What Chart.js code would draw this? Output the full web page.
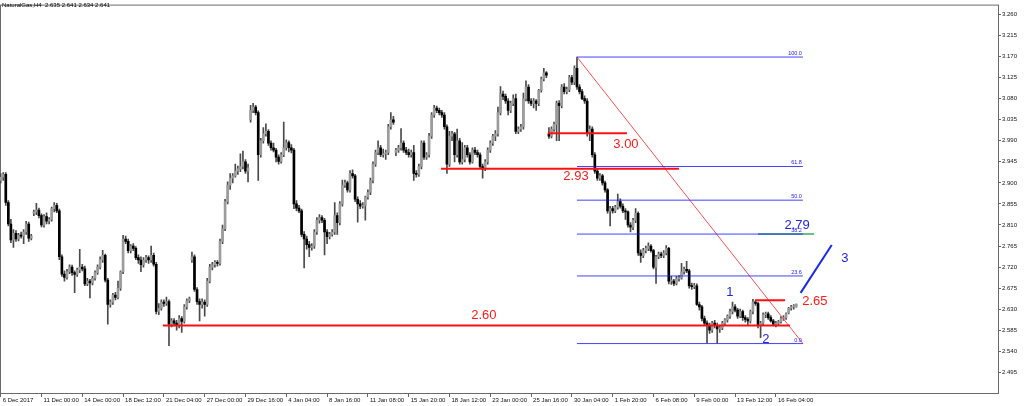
<!DOCTYPE html>
<html>
<head>
<meta charset="utf-8">
<title>NaturalGas H4</title>
<style>
  html, body { margin: 0; padding: 0; background: #fff; }
  canvas { display: block; }
</style>
<script src="https://cdn.jsdelivr.net/npm/chart.js@4.4.1/dist/chart.umd.min.js"></script>
</head>
<body>
<canvas id="gasChart" width="1024" height="406"></canvas>
<script>
'use strict'

// H4 candles (bar 0 = 6 Dec 2017)
const opens = [
  2.905,2.912,2.918,2.858,2.812,2.778,2.792,2.780,2.788,2.786,
  2.795,2.812,2.782,2.835,2.838,2.842,2.830,2.810,2.828,2.818,
  2.822,2.845,2.852,2.840,2.742,2.705,2.698,2.710,2.720,2.708,
  2.704,2.714,2.720,2.716,2.684,2.690,2.686,2.696,2.708,2.720,
  2.736,2.745,2.692,2.640,2.645,2.660,2.655,2.675,2.710,2.780,
  2.775,2.755,2.765,2.760,2.740,2.735,2.725,2.735,2.740,2.735,
  2.745,2.726,2.625,2.632,2.645,2.642,2.646,2.598,2.605,2.600,
  2.597,2.610,2.604,2.635,2.648,2.735,2.742,2.672,2.646,2.640,
  2.645,2.640,2.690,2.720,2.725,2.730,2.728,2.775,2.802,2.860,
  2.895,2.910,2.915,2.925,2.930,2.935,2.945,2.925,3.035,3.055,
  3.062,3.050,2.960,2.990,3.005,3.010,2.985,2.975,2.970,2.955,
  2.946,2.960,2.975,2.986,2.975,2.970,2.855,2.846,2.840,2.790,
  2.780,2.768,2.762,2.765,2.795,2.820,2.826,2.820,2.795,2.785,
  2.790,2.795,2.830,2.815,2.855,2.895,2.900,2.885,2.920,2.915,
  2.865,2.855,2.850,2.852,2.870,2.880,2.905,2.940,2.965,2.975,
  2.960,2.962,2.965,3.020,3.035,2.965,2.970,2.975,2.985,2.970,
  2.965,2.960,2.965,2.920,2.918,2.935,2.985,2.955,2.960,3.000,
  3.045,3.060,3.055,3.050,3.045,3.020,2.940,3.000,3.005,2.960,
  2.990,2.945,2.950,2.975,2.960,2.945,2.970,2.965,2.960,2.935,
  2.930,2.945,2.970,2.985,3.000,3.005,3.050,3.090,3.085,3.075,
  3.055,3.070,3.080,3.010,3.015,3.020,3.080,3.105,3.075,3.070,
  3.075,3.070,3.098,3.122,3.135,3.005,3.000,3.015,3.025,3.070,
  3.065,3.105,3.095,3.100,3.125,3.115,3.145,3.105,3.095,3.080,
  3.075,3.005,3.015,2.960,2.925,2.910,2.915,2.900,2.885,2.840,
  2.845,2.840,2.848,2.860,2.850,2.840,2.838,2.810,2.805,2.820,
  2.835,2.750,2.745,2.755,2.760,2.765,2.755,2.720,2.742,2.748,
  2.745,2.750,2.760,2.690,2.690,2.685,2.695,2.697,2.710,2.715,
  2.712,2.680,2.678,2.680,2.640,2.635,2.610,2.600,2.595,2.585,
  2.600,2.595,2.588,2.590,2.600,2.607,2.615,2.625,2.635,2.628,
  2.615,2.625,2.612,2.608,2.605,2.625,2.645,2.642,2.595,2.600,
  2.618,2.620,2.612,2.605,2.598,2.600,2.603,2.610,2.612,2.622,
  2.632,2.635,2.635
]
const highs = [
  2.920,2.922,2.922,2.862,2.822,2.800,2.798,2.792,2.795,2.800,
  2.818,2.816,2.790,2.842,2.856,2.846,2.834,2.832,2.836,2.826,
  2.848,2.858,2.856,2.844,2.746,2.712,2.715,2.725,2.724,2.712,
  2.718,2.758,2.726,2.722,2.696,2.694,2.700,2.712,2.725,2.742,
  2.756,2.748,2.696,2.650,2.664,2.666,2.690,2.712,2.788,2.786,
  2.780,2.768,2.770,2.764,2.746,2.742,2.740,2.745,2.744,2.765,
  2.750,2.730,2.642,2.650,2.650,2.656,2.650,2.610,2.610,2.606,
  2.616,2.614,2.640,2.652,2.656,2.752,2.746,2.676,2.652,2.652,
  2.650,2.696,2.726,2.730,2.734,2.734,2.780,2.810,2.865,2.902,
  2.920,2.920,2.940,2.936,2.962,2.968,2.950,2.940,3.066,3.070,
  3.066,3.054,2.995,3.018,3.026,3.014,2.990,2.985,2.974,2.960,
  2.965,3.030,2.992,2.990,2.982,2.974,2.862,2.852,2.844,2.796,
  2.786,2.775,2.770,2.800,2.826,2.832,2.830,2.824,2.800,2.794,
  2.800,2.858,2.836,2.860,2.906,2.906,2.904,2.926,2.928,2.918,
  2.870,2.862,2.858,2.872,2.885,2.910,2.945,2.970,2.990,2.980,
  2.972,2.970,3.025,3.050,3.042,2.974,2.980,3.016,2.990,2.976,
  2.972,2.970,2.980,2.926,2.940,2.990,2.990,2.965,3.006,3.050,
  3.066,3.064,3.060,3.055,3.050,3.024,3.010,3.010,3.008,3.015,
  2.995,2.986,2.980,2.980,2.965,2.975,2.976,2.970,2.964,2.940,
  2.950,2.975,2.990,3.004,3.012,3.062,3.106,3.096,3.090,3.080,
  3.075,3.088,3.090,3.020,3.025,3.092,3.118,3.110,3.080,3.080,
  3.078,3.100,3.126,3.145,3.138,3.018,3.020,3.030,3.075,3.076,
  3.110,3.112,3.105,3.130,3.130,3.150,3.169,3.110,3.100,3.086,
  3.080,3.022,3.020,2.965,2.930,2.920,2.918,2.904,2.888,2.850,
  2.850,2.852,2.876,2.866,2.855,2.845,2.840,2.815,2.824,2.845,
  2.838,2.757,2.760,2.765,2.772,2.768,2.758,2.745,2.752,2.752,
  2.755,2.766,2.762,2.700,2.694,2.700,2.702,2.728,2.720,2.732,
  2.715,2.686,2.685,2.684,2.645,2.638,2.615,2.605,2.600,2.604,
  2.606,2.600,2.596,2.604,2.610,2.618,2.630,2.645,2.640,2.632,
  2.630,2.628,2.616,2.612,2.628,2.651,2.648,2.645,2.604,2.622,
  2.624,2.624,2.616,2.608,2.604,2.606,2.614,2.616,2.622,2.634,
  2.638,2.640,2.641
]
const lows = [
  2.900,2.905,2.852,2.808,2.772,2.762,2.775,2.776,2.782,2.770,
  2.790,2.775,2.778,2.830,2.832,2.825,2.806,2.805,2.812,2.812,
  2.818,2.838,2.836,2.736,2.700,2.690,2.694,2.706,2.702,2.665,
  2.700,2.708,2.712,2.680,2.680,2.654,2.682,2.692,2.704,2.716,
  2.730,2.688,2.598,2.634,2.640,2.650,2.652,2.670,2.706,2.770,
  2.750,2.750,2.755,2.736,2.728,2.710,2.720,2.730,2.728,2.730,
  2.722,2.620,2.618,2.628,2.636,2.638,2.552,2.592,2.594,2.585,
  2.590,2.580,2.600,2.630,2.644,2.730,2.668,2.640,2.605,2.632,
  2.615,2.636,2.686,2.714,2.720,2.722,2.724,2.770,2.798,2.855,
  2.886,2.900,2.912,2.918,2.924,2.930,2.920,2.902,3.030,3.050,
  3.045,2.905,2.955,2.985,3.000,2.980,2.970,2.966,2.945,2.940,
  2.942,2.956,2.970,2.966,2.964,2.845,2.840,2.836,2.785,2.718,
  2.758,2.742,2.756,2.760,2.790,2.814,2.815,2.746,2.770,2.780,
  2.786,2.790,2.790,2.810,2.850,2.890,2.880,2.880,2.910,2.860,
  2.816,2.845,2.846,2.820,2.865,2.875,2.900,2.935,2.960,2.956,
  2.955,2.950,2.960,3.015,3.025,2.958,2.965,2.970,2.965,2.960,
  2.955,2.955,2.905,2.912,2.914,2.930,2.950,2.950,2.955,2.995,
  3.040,3.050,3.045,3.040,3.015,2.920,2.935,2.990,2.945,2.955,
  2.940,2.940,2.945,2.955,2.940,2.942,2.960,2.955,2.932,2.910,
  2.926,2.940,2.965,2.980,2.990,3.000,3.045,3.078,3.070,3.045,
  3.050,3.065,3.005,3.005,3.010,3.015,3.075,3.070,3.065,3.060,
  3.055,3.065,3.094,3.118,3.125,2.995,2.996,3.010,2.990,2.990,
  3.060,3.090,3.090,3.095,3.110,3.110,3.100,3.090,3.078,3.070,
  3.000,2.990,2.955,2.920,2.905,2.905,2.895,2.880,2.835,2.808,
  2.835,2.836,2.844,2.846,2.836,2.822,2.805,2.795,2.800,2.815,
  2.745,2.730,2.740,2.750,2.755,2.752,2.716,2.685,2.738,2.740,
  2.740,2.746,2.684,2.683,2.680,2.682,2.690,2.694,2.705,2.708,
  2.675,2.672,2.674,2.638,2.628,2.605,2.596,2.558,2.578,2.580,
  2.590,2.558,2.580,2.586,2.596,2.602,2.610,2.620,2.624,2.610,
  2.612,2.606,2.602,2.595,2.600,2.620,2.638,2.590,2.569,2.596,
  2.612,2.608,2.602,2.594,2.592,2.596,2.600,2.606,2.608,2.620,
  2.628,2.630,2.634
]
const closes = [
  2.912,2.918,2.858,2.812,2.778,2.792,2.780,2.788,2.786,2.795,
  2.812,2.782,2.786,2.838,2.842,2.830,2.810,2.828,2.818,2.822,
  2.845,2.852,2.840,2.742,2.705,2.698,2.710,2.720,2.708,2.704,
  2.714,2.720,2.716,2.684,2.690,2.686,2.696,2.708,2.720,2.736,
  2.745,2.692,2.640,2.645,2.660,2.655,2.675,2.710,2.780,2.775,
  2.755,2.765,2.760,2.740,2.735,2.725,2.735,2.740,2.735,2.745,
  2.726,2.625,2.632,2.645,2.642,2.646,2.598,2.605,2.600,2.597,
  2.610,2.604,2.635,2.648,2.652,2.742,2.672,2.646,2.640,2.645,
  2.640,2.690,2.720,2.725,2.730,2.728,2.775,2.802,2.860,2.895,
  2.910,2.915,2.925,2.930,2.935,2.945,2.925,2.932,3.055,3.062,
  3.050,2.960,2.990,3.005,3.010,2.985,2.975,2.970,2.955,2.946,
  2.960,2.975,2.986,2.975,2.970,2.855,2.846,2.840,2.790,2.780,
  2.768,2.762,2.765,2.795,2.820,2.826,2.820,2.795,2.785,2.790,
  2.795,2.830,2.815,2.855,2.895,2.900,2.885,2.920,2.915,2.865,
  2.855,2.850,2.852,2.870,2.880,2.905,2.940,2.965,2.975,2.960,
  2.962,2.965,3.020,3.035,3.030,2.970,2.975,2.985,2.970,2.965,
  2.960,2.965,2.920,2.918,2.935,2.985,2.955,2.960,3.000,3.045,
  3.060,3.055,3.050,3.045,3.020,2.940,3.000,3.005,2.960,2.990,
  2.945,2.950,2.975,2.960,2.945,2.970,2.965,2.960,2.935,2.930,
  2.945,2.970,2.985,3.000,3.005,3.050,3.090,3.085,3.075,3.055,
  3.070,3.080,3.010,3.015,3.020,3.080,3.105,3.075,3.070,3.075,
  3.070,3.098,3.122,3.135,3.130,3.000,3.015,3.025,3.070,3.065,
  3.105,3.095,3.100,3.125,3.115,3.145,3.105,3.095,3.080,3.075,
  3.005,3.015,2.960,2.925,2.910,2.915,2.900,2.885,2.840,2.845,
  2.840,2.848,2.860,2.850,2.840,2.838,2.810,2.805,2.820,2.835,
  2.750,2.745,2.755,2.760,2.765,2.755,2.720,2.742,2.748,2.745,
  2.750,2.760,2.690,2.690,2.685,2.695,2.697,2.710,2.715,2.712,
  2.680,2.678,2.680,2.640,2.635,2.610,2.600,2.595,2.585,2.600,
  2.595,2.588,2.590,2.600,2.607,2.615,2.625,2.635,2.628,2.615,
  2.625,2.612,2.608,2.605,2.625,2.645,2.642,2.595,2.600,2.618,
  2.620,2.612,2.605,2.598,2.600,2.603,2.610,2.612,2.620,2.632,
  2.635,2.635,2.641
]

// axis ticks
const tickBars = [0, 16, 32, 48, 64, 80, 96, 112, 128, 144, 160, 176, 192, 208, 224, 240, 256, 272, 288, 304]
const timeLabels = ['6 Dec 2017', '11 Dec 00:00', '14 Dec 00:00', '18 Dec 12:00', '21 Dec 04:00',
  '27 Dec 00:00', '29 Dec 16:00', '4 Jan 04:00', '8 Jan 16:00', '11 Jan 08:00',
  '15 Jan 20:00', '18 Jan 12:00', '23 Jan 00:00', '25 Jan 16:00', '30 Jan 04:00',
  '1 Feb 20:00', '6 Feb 08:00', '9 Feb 00:00', '13 Feb 12:00', '16 Feb 04:00']
const priceTicks = [2.495, 2.540, 2.585, 2.630, 2.675, 2.720, 2.765, 2.810, 2.855,
  2.900, 2.945, 2.990, 3.035, 3.080, 3.125, 3.170, 3.215, 3.260]

// red support / resistance levels (price, first bar, last bar, label)
const levelPrices = [2.595, 2.930, 3.006, 2.649]
const levelFrom = [63.6, 172.7, 214.6, 295.8]
const levelTo = [309.5, 266.0, 245.6, 307.6]
const levelNames = ['2.60', '2.93', '3.00', '2.65']
const levelNameBar = [189.5, 225.6, 245.2, 319.3]
const levelNamePrice = [2.617, 2.9135, 2.983, 2.647]

// fibonacci retracement of the 3.169 -> 2.556 swing
const fibFrom = 226
const fibTo = 314.6
const fibNames = ['100.0', '61.8', '50.0', '38.2', '23.6', '0.0']
const fibPrices = [3.169, 2.935, 2.863, 2.7905, 2.701, 2.5564]
const trendStart = [226, 3.169]
const trendEnd = [314.6, 2.5564]

// wave count and projection
const waveNames = ['1', '2', '3', '2.79']
const waveBars = [286, 300.1, 331.1, 312.3]
const wavePrices = [2.6652, 2.5649, 2.7381, 2.810]
const projStart = [313.7, 2.6648]
const projEnd = [325.9, 2.7671]
const targetFrom = 297
const targetTo = 319
const targetPrice = 2.7905

const title = 'NaturalGas,H4  2.635 2.641 2.634 2.641'
const smallFont = '"Liberation Sans", Arial, sans-serif'

const seg = (x1, y1, x2, y2) => [{ x: x1, y: y1 }, { x: x2, y: y2 }]
const lineSet = (data, color, width) => ({
  type: 'line', data: data, borderColor: color, borderWidth: width,
  pointRadius: 0, fill: false, order: 0
})

const datasets = []
levelPrices.forEach((p, i) => datasets.push(lineSet(seg(levelFrom[i], p, levelTo[i], p), '#ff1010', 2)))
fibPrices.forEach(p => datasets.push(lineSet(seg(fibFrom, p, fibTo, p), 'rgba(20,20,255,0.8)', 1)))
datasets.push(lineSet(seg(targetFrom, targetPrice, targetTo, targetPrice), '#3aa860', 1.5))
datasets.push(lineSet(seg(trendStart[0], trendStart[1], trendEnd[0], trendEnd[1]), '#ff5050', 1))
datasets.push(lineSet(seg(projStart[0], projStart[1], projEnd[0], projEnd[1]), '#1a2ae6', 2))

// candle bodies and wicks as floating bars
datasets.push({
  type: 'bar',
  data: opens.map((o, i) => ({ x: i, y: [Math.min(o, closes[i]), Math.max(o, closes[i])] })),
  backgroundColor: ctx => closes[ctx.dataIndex] >= opens[ctx.dataIndex] ? '#9c9c9c' : '#000000',
  barThickness: 2, minBarLength: 1, grouped: false, order: 1
})
datasets.push({
  type: 'bar',
  data: highs.map((h, i) => ({ x: i, y: [lows[i], h] })),
  backgroundColor: '#4a4a4a',
  barThickness: 1, grouped: false, order: 2
})

const chartText = {
  id: 'chartText',
  beforeDatasetsDraw(chart) {
    const { ctx, chartArea: a } = chart
    ctx.save()
    ctx.strokeStyle = '#6a6a6a'
    ctx.lineWidth = 1
    ctx.strokeRect(a.left + 0.5, a.top + 0.5, a.right - a.left - 1, a.bottom - a.top - 1)
    ctx.restore()
  },
  afterDatasetsDraw(chart) {
    const { ctx, scales: { x, y } } = chart
    ctx.save()
    ctx.textAlign = 'center'
    ctx.textBaseline = 'middle'
    ctx.font = '13px "Liberation Sans", Arial, sans-serif'
    ctx.fillStyle = '#ff1a1a'
    levelNames.forEach((t, i) => ctx.fillText(t, x.getPixelForValue(levelNameBar[i]), y.getPixelForValue(levelNamePrice[i])))
    ctx.fillStyle = '#2424e0'
    waveNames.forEach((t, i) => ctx.fillText(t, x.getPixelForValue(waveBars[i]), y.getPixelForValue(wavePrices[i])))

    // fibonacci level names
    ctx.font = '5.5px ' + smallFont
    ctx.textAlign = 'right'
    ctx.textBaseline = 'alphabetic'
    ctx.fillStyle = '#2020ff'
    fibNames.forEach((t, i) => ctx.fillText(t, x.getPixelForValue(fibTo) - 1, y.getPixelForValue(fibPrices[i]) - 2))

    ctx.font = '6px ' + smallFont
    ctx.textAlign = 'left'
    ctx.textBaseline = 'top'
    ctx.fillStyle = '#000'
    ctx.fillText(title, 2, 2)
    ctx.restore()
  }
}

new Chart(document.getElementById('gasChart'), {
  type: 'bar',
  data: { datasets: datasets },
  options: {
    responsive: false,
    animation: false,
    layout: { padding: 0 },
    plugins: { legend: { display: false }, tooltip: { enabled: false } },
    scales: {
      x: {
        type: 'linear',
        offset: false,
        min: -0.27,
        max: 391.5,
        afterFit: s => { s.height = 12 },
        afterBuildTicks: s => { s.ticks = tickBars.map(v => ({ value: v })) },
        grid: { drawOnChartArea: false, drawTicks: true, tickLength: 3, color: '#666', offset: false },
        border: { display: false },
        ticks: {
          autoSkip: false, maxRotation: 0, align: 'start', labelOffset: 2, padding: 0,
          color: '#111', font: { size: 6, family: smallFont },
          callback: (v, i) => timeLabels[i]
        }
      },
      y: {
        position: 'right',
        min: 2.4486,
        max: 3.2811,
        beginAtZero: false,
        afterFit: s => { s.width = 25 },
        afterBuildTicks: s => { s.ticks = priceTicks.map(v => ({ value: v })) },
        grid: { drawOnChartArea: false, drawTicks: true, tickLength: 2, color: '#666' },
        border: { display: false },
        ticks: {
          padding: 1, color: '#111', font: { size: 6, family: smallFont },
          callback: v => v.toFixed(3)
        }
      }
    }
  },
  plugins: [chartText]
})
</script>
</body>
</html>
